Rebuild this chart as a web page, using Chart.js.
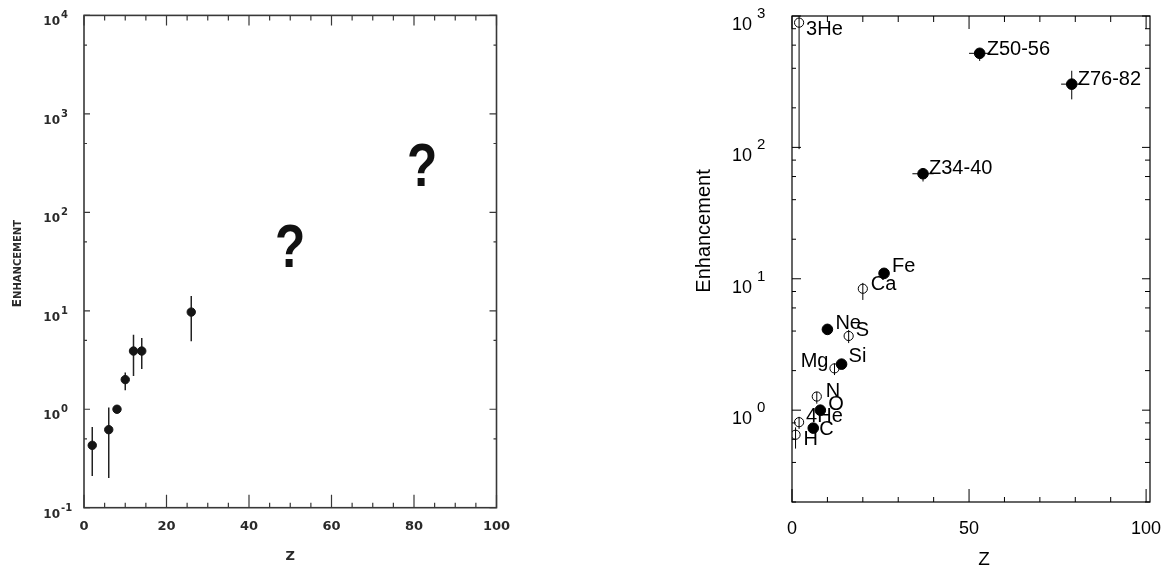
<!DOCTYPE html>
<html>
<head>
<meta charset="utf-8">
<script src="https://cdn.jsdelivr.net/npm/chart.js@4.4.1/dist/chart.umd.min.js"></script>
<style>
    body { margin: 0; background: #fff; width: 1162px; height: 573px; overflow: hidden; position: relative; }
    .panel { position: absolute; top: 0; height: 573px; }
    #leftPanel { left: 0; width: 580px; }
    #rightPanel { left: 580px; width: 582px; }
</style>
</head>
<body>
<div class="panel" id="leftPanel"><canvas id="oldChart" width="580" height="573"></canvas></div>
<div class="panel" id="rightPanel"><canvas id="newChart" width="582" height="573"></canvas></div>
<script>
// Left panel: older enhancement measurements (scanned figure)
const oldZ = [2, 6, 8, 10, 12, 14, 26];
const oldValue = [0.43, 0.62, 1.0, 2.0, 3.9, 3.9, 9.7];
const oldLow = [0.21, 0.20, null, 1.56, 2.17, 2.57, 4.9];
const oldHigh = [0.66, 1.04, null, 2.36, 5.7, 5.3, 14.1];

// the two "?" marks
const guessZ = [49, 81];
const guessValue = [31, 207];

// Left panel axis ticks
const oldXMajor = [0, 20, 40, 60, 80, 100];
const oldXMinor = [5, 10, 15, 25, 30, 35, 45, 50, 55, 65, 70, 75, 85, 90, 95];
const oldYMajor = [0.1, 1, 10, 100, 1000, 10000];
const oldYMinor = [0.5, 5, 50, 500, 5000];

// Right panel: newer enhancement measurements
const newLabels = ['H', '3He', '4He', 'C', 'N', 'O', 'Ne', 'Mg', 'Si', 'S', 'Ca', 'Fe', 'Z34-40', 'Z50-56', 'Z76-82'];
const newZ = [1, 2, 2, 6, 7, 8, 10, 12, 14, 16, 20, 26, 37, 53, 79];
const newValue = [0.65, 890, 0.81, 0.73, 1.27, 1.0, 4.12, 2.08, 2.24, 3.67, 8.4, 11.0, 63, 520, 303];
const newLow = [0.51, 97, 0.72, null, 1.12, null, null, 1.85, null, 3.24, 6.9, null, 55, 455, 232];
const newHigh = [0.74, 1200, 0.89, null, 1.38, null, null, 2.27, null, 4.08, 9.3, null, 68, 557, 383];
const zLow = [null, null, null, null, null, null, null, null, null, null, null, null, 34, 50, 76];
const zHigh = [null, null, null, null, null, null, null, null, null, null, null, null, 40, 56, 82];
const newFilled = [false, false, false, true, false, true, true, false, true, false, false, true, true, true, true];

// Right panel axis ticks
const newXMajor = [0, 50, 100];
const newXMinor = [10, 20, 30, 40, 60, 70, 80, 90];
const newYMajor = [1, 10, 100, 1000];
const newYMinor = [0.2, 0.4, 0.6, 0.8, 2, 4, 6, 8, 20, 40, 60, 80, 200, 400, 600, 800];

// where each label sits relative to its point: [dx, dy, align]
const labelPlace = {
    'H': [8, 10, 'left'], '3He': [7, 12, 'left'], '4He': [7, 0, 'left'],
    'C': [6, 7, 'left'], 'N': [9, 0, 'left'], 'O': [8, 0, 'left'],
    'Ne': [8, 0, 'left'], 'Mg': [-6, -1, 'right'], 'Si': [7, -2, 'left'],
    'S': [7, 0, 'left'], 'Ca': [8, 1, 'left'], 'Fe': [8, -1, 'left'],
    'Z34-40': [6, 0, 'left'], 'Z50-56': [7, 2, 'left'], 'Z76-82': [6, 1, 'left']
};

function tickMarks(ctx, chart, values, side, len) {
    const a = chart.chartArea;
    const {x, y} = chart.scales;
    ctx.beginPath();
    values.forEach(v => {
        if (side === 'bottom' || side === 'top') {
            const px = x.getPixelForValue(v);
            const py = side === 'bottom' ? a.bottom : a.top;
            ctx.moveTo(px, py);
            ctx.lineTo(px, side === 'bottom' ? py - len : py + len);
        } else {
            const py = y.getPixelForValue(v);
            const px = side === 'left' ? a.left : a.right;
            ctx.moveTo(px, py);
            ctx.lineTo(side === 'left' ? px + len : px - len, py);
        }
    });
    ctx.stroke();
}

function errorBars(ctx, chart, xs, ys, lows, highs, xLows, xHighs) {
    const {x, y} = chart.scales;
    const a = chart.chartArea;
    ctx.save();
    ctx.beginPath();
    ctx.rect(a.left, a.top, a.right - a.left, a.bottom - a.top);
    ctx.clip();
    ctx.beginPath();
    xs.forEach((z, i) => {
        const px = x.getPixelForValue(z);
        const py = y.getPixelForValue(ys[i]);
        if (lows[i] != null) {
            ctx.moveTo(px, y.getPixelForValue(lows[i]));
            ctx.lineTo(px, y.getPixelForValue(highs[i]));
        }
        if (xLows && xLows[i] != null) {
            ctx.moveTo(x.getPixelForValue(xLows[i]), py);
            ctx.lineTo(x.getPixelForValue(xHighs[i]), py);
        }
    });
    ctx.stroke();
    ctx.restore();
}

// power-of-ten label: "10" with a raised exponent
function powerLabel(ctx, exp, rightX, py, base, sup, dyBase, dySup, gap) {
    ctx.textBaseline = 'alphabetic';
    ctx.textAlign = 'right';
    ctx.font = base;
    ctx.fillText('10', rightX, py + dyBase);
    ctx.textAlign = 'left';
    ctx.font = sup;
    ctx.fillText(String(exp), rightX + gap, py + dySup);
}

const oldDecor = {
    id: 'oldDecor',
    beforeDatasetsDraw(chart) {
        const ctx = chart.ctx;
        ctx.save();
        ctx.strokeStyle = '#222';
        ctx.lineWidth = 1.5;
        errorBars(ctx, chart, oldZ, oldValue, oldLow, oldHigh);
        ctx.restore();
    },
    afterDraw(chart) {
        const {ctx, chartArea: a, scales: {x, y}} = chart;
        ctx.save();
        ctx.strokeStyle = '#383838';
        ctx.lineWidth = 1.6;
        ctx.strokeRect(a.left, a.top, a.right - a.left, a.bottom - a.top);
        ctx.lineWidth = 1.2;
        tickMarks(ctx, chart, oldXMajor, 'bottom', 13);
        tickMarks(ctx, chart, oldXMinor, 'bottom', 5);
        tickMarks(ctx, chart, oldXMajor, 'top', 10);
        tickMarks(ctx, chart, oldXMinor, 'top', 5);
        tickMarks(ctx, chart, oldYMajor, 'left', 6);
        tickMarks(ctx, chart, oldYMinor, 'left', 3);
        tickMarks(ctx, chart, oldYMajor, 'right', 7);
        tickMarks(ctx, chart, oldYMinor, 'right', 3);

        ctx.fillStyle = '#2a2a2a';
        oldYMajor.forEach(v => {
            powerLabel(ctx, Math.round(Math.log10(v)), a.left - 24, y.getPixelForValue(v),
                'bold 12px "DejaVu Sans"', 'bold 10px "DejaVu Sans"', 10, 3, 1);
        });
        ctx.font = 'bold 13px "DejaVu Sans"';
        ctx.textAlign = 'center';
        ctx.textBaseline = 'middle';
        oldXMajor.forEach(v => ctx.fillText(String(v), x.getPixelForValue(v), a.bottom + 19));

        // axis titles
        ctx.font = 'bold 13px "DejaVu Sans"';
        ctx.fillText('Z', (a.left + a.right) / 2, a.bottom + 49);
        ctx.save();
        ctx.translate(17, (a.top + a.bottom) / 2 + 2);
        ctx.rotate(-Math.PI / 2);
        ctx.textBaseline = 'alphabetic';
        ctx.font = 'bold 12px "DejaVu Sans"';
        const first = ctx.measureText('E').width;
        ctx.font = 'bold 10px "DejaVu Sans"';
        const rest = ctx.measureText('NHANCEMENT').width;
        const sx = -(first + rest) / 2;
        ctx.textAlign = 'left';
        ctx.font = 'bold 12px "DejaVu Sans"';
        ctx.fillText('E', sx, 4);
        ctx.font = 'bold 10px "DejaVu Sans"';
        ctx.fillText('NHANCEMENT', sx + first, 4);
        ctx.restore();

        // question marks
        ctx.fillStyle = '#111';
        ctx.font = 'bold 62px "Liberation Sans"';
        ctx.textAlign = 'center';
        ctx.textBaseline = 'alphabetic';
        guessZ.forEach((z, i) => {
            ctx.save();
            ctx.translate(x.getPixelForValue(z) + 4, y.getPixelForValue(guessValue[i]) + 5);
            ctx.scale(0.8, 1);
            ctx.fillText('?', 0, 0);
            ctx.restore();
        });
        ctx.restore();
    }
};

const newDecor = {
    id: 'newDecor',
    afterDatasetsDraw(chart) {
        const ctx = chart.ctx;
        ctx.save();
        ctx.strokeStyle = '#000';
        ctx.lineWidth = 1;
        errorBars(ctx, chart, newZ, newValue, newLow, newHigh, zLow, zHigh);
        ctx.restore();
    },
    afterDraw(chart) {
        const {ctx, chartArea: a, scales: {x, y}} = chart;
        ctx.save();
        ctx.strokeStyle = '#000';
        ctx.lineWidth = 1.2;
        ctx.strokeRect(a.left, a.top, a.right - a.left, a.bottom - a.top);
        ctx.lineWidth = 1;
        tickMarks(ctx, chart, newXMajor, 'bottom', 13);
        tickMarks(ctx, chart, newXMinor, 'bottom', 5);
        tickMarks(ctx, chart, newXMajor, 'top', 13);
        tickMarks(ctx, chart, newXMinor, 'top', 6);
        tickMarks(ctx, chart, newYMajor, 'left', 9);
        tickMarks(ctx, chart, newYMinor, 'left', 4);
        tickMarks(ctx, chart, newYMajor, 'right', 8);
        tickMarks(ctx, chart, newYMinor, 'right', 5);

        ctx.fillStyle = '#000';
        newYMajor.forEach(v => {
            powerLabel(ctx, Math.round(Math.log10(v)), a.left - 40, y.getPixelForValue(v),
                '18px "Liberation Sans"', '15px "Liberation Sans"', 14, 2, 5);
        });
        ctx.font = '18px "Liberation Sans"';
        ctx.textAlign = 'center';
        ctx.textBaseline = 'middle';
        newXMajor.forEach(v => ctx.fillText(String(v), x.getPixelForValue(v), a.bottom + 27));

        // point labels
        ctx.font = '20px "Liberation Sans"';
        ctx.textBaseline = 'alphabetic';
        newLabels.forEach((lab, i) => {
            const [dx, dy, align] = labelPlace[lab];
            ctx.textAlign = align;
            ctx.fillText(lab, x.getPixelForValue(newZ[i]) + dx, y.getPixelForValue(newValue[i]) + dy);
        });

        // axis titles
        ctx.textAlign = 'center';
        ctx.textBaseline = 'middle';
        ctx.font = '19px "Liberation Sans"';
        ctx.fillText('Z', (a.left + a.right) / 2 + 13, a.bottom + 58);
        ctx.save();
        ctx.translate(124, 231);
        ctx.rotate(-Math.PI / 2);
        ctx.font = '20px "Liberation Sans"';
        ctx.fillText('Enhancement', 0, 0);
        ctx.restore();
        ctx.restore();
    }
};

function hiddenScale(type, min, max, size) {
    return {
        type: type, min: min, max: max,
        grid: { display: false },
        border: { display: false },
        ticks: { display: false },
        afterFit: size
    };
}

new Chart(document.getElementById('oldChart'), {
    type: 'scatter',
    data: {
        datasets: [{
            data: oldZ.map((z, i) => ({ x: z, y: oldValue[i] })),
            pointRadius: 4.2,
            backgroundColor: '#151515',
            borderColor: '#151515'
        }]
    },
    options: {
        responsive: false,
        animation: false,
        devicePixelRatio: 1,
        layout: { padding: { left: 0, right: 83.5, top: 15.4, bottom: 0 } },
        plugins: { legend: { display: false }, tooltip: { enabled: false } },
        scales: {
            x: hiddenScale('linear', 0, 100, s => { s.height = 65.3; }),
            y: hiddenScale('logarithmic', 0.1, 10000, s => { s.width = 84; })
        }
    },
    plugins: [oldDecor]
});

const points = newZ.map((z, i) => ({ x: z, y: newValue[i] }));

new Chart(document.getElementById('newChart'), {
    type: 'scatter',
    data: {
        datasets: [{
            label: 'filled',
            data: points.filter((p, i) => newFilled[i]),
            pointRadius: 5.3,
            backgroundColor: '#000',
            borderColor: '#000'
        }, {
            label: 'open',
            data: points.filter((p, i) => !newFilled[i]),
            pointRadius: 4.6,
            borderWidth: 1,
            backgroundColor: 'rgba(0,0,0,0)',
            borderColor: '#000'
        }]
    },
    options: {
        responsive: false,
        animation: false,
        devicePixelRatio: 1,
        layout: { padding: { left: 0, right: 12, top: 16, bottom: 0 } },
        plugins: { legend: { display: false }, tooltip: { enabled: false } },
        scales: {
            x: hiddenScale('linear', 0, 101.1, s => { s.height = 71; }),
            y: hiddenScale('logarithmic', 0.2, 1000, s => { s.width = 212; })
        }
    },
    plugins: [newDecor]
});
</script>
</body>
</html>
